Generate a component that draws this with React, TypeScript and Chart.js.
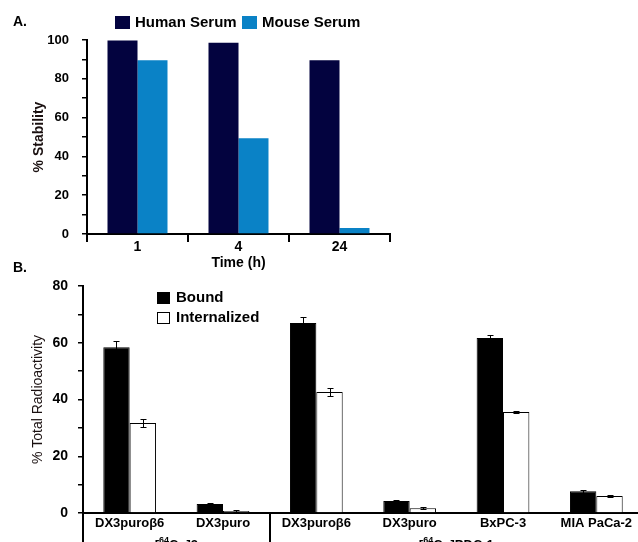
import React, { useEffect, useRef } from 'react';
import { Chart, registerables } from 'chart.js';

Chart.register(...registerables);

// ---------- Panel A data ----------
const timeLabels = ['1', '4', '24'];
const humanSerum = [99.7, 98.6, 89.6];
const mouseSerum = [89.5, 49.3, 3.1];
const seriesNamesA = ['Human Serum', 'Mouse Serum'];

// ---------- Panel B data ----------
const cellLines = ['DX3puroβ6', 'DX3puro', 'DX3puroβ6', 'DX3puro', 'BxPC-3', 'MIA PaCa-2'];
const bound = [58.4, 3.2, 67.0, 4.2, 61.7, 7.7];
const boundErr = [2.3, 0.5, 2.0, 0.3, 1.0, 0.5];
const internalized = [31.7, 0.7, 42.6, 1.7, 35.6, 6.0];
const internalizedErr = [1.3, 0.2, 1.5, 0.3, 0.5, 0.5];
const seriesNamesB = ['Bound', 'Internalized'];
const groupNames = ['2', 'PDC-1'];
const groupFirst = [0, 2];
const groupLast = [1, 5];

const FAMILY = "'Liberation Sans', Arial, Helvetica, sans-serif";
const HUMAN = '#03033f';
const MOUSE = '#0a82c6';

const panelAPlugin = {
  id: 'panelA',
  afterDraw(chart: any) {
    const ctx = chart.ctx;
    ctx.save();
    ctx.fillStyle = '#000';
    ctx.font = `bold 14px ${FAMILY}`;
    ctx.textBaseline = 'middle';
    ctx.textAlign = 'left';
    ctx.fillText('A.', 13, 22);
    // legend
    const items = [
      { x: 115, color: HUMAN, text: seriesNamesA[0] },
      { x: 242, color: MOUSE, text: seriesNamesA[1] },
    ];
    ctx.font = `bold 15px ${FAMILY}`;
    items.forEach((it) => {
      ctx.fillStyle = it.color;
      ctx.fillRect(it.x, 16, 15, 13);
      ctx.fillStyle = '#000';
      ctx.fillText(it.text, it.x + 20, 23);
    });
    ctx.restore();
  },
};

const panelBPlugin = {
  id: 'panelB',
  afterDatasetsDraw(chart: any) {
    const ctx = chart.ctx;
    const yScale = chart.scales.y;
    const xScale = chart.scales.x;
    const area = chart.chartArea;
    ctx.save();
    // error bars
    const errs = [boundErr, internalizedErr];
    const vals = [bound, internalized];
    ctx.strokeStyle = '#000';
    ctx.lineWidth = 1;
    [0, 1].forEach((d) => {
      const meta = chart.getDatasetMeta(d);
      meta.data.forEach((el: any, i: number) => {
        const v = vals[d][i];
        const e = errs[d][i];
        const yt = Math.round(yScale.getPixelForValue(v + e)) + 0.5;
        const yb = Math.round(yScale.getPixelForValue(Math.max(0, v - e))) + 0.5;
        const x = Math.round(el.x) + 0.5;
        ctx.beginPath();
        ctx.moveTo(x, yt);
        ctx.lineTo(x, yb);
        ctx.moveTo(x - 3, yt);
        ctx.lineTo(x + 3, yt);
        ctx.moveTo(x - 3, yb);
        ctx.lineTo(x + 3, yb);
        ctx.stroke();
      });
    });
    // axis extension and group divider
    const half = (xScale.getPixelForValue(1) - xScale.getPixelForValue(0)) / 2;
    ctx.lineWidth = 2;
    ctx.beginPath();
    ctx.moveTo(area.left, area.bottom);
    ctx.lineTo(area.left, chart.height);
    const divX = Math.round(xScale.getPixelForValue(groupLast[0]) + half);
    ctx.moveTo(divX, area.bottom);
    ctx.lineTo(divX, chart.height);
    ctx.stroke();
    // group labels
    ctx.fillStyle = '#000';
    ctx.textBaseline = 'alphabetic';
    groupNames.forEach((name, g) => {
      const x0 = xScale.getPixelForValue(groupFirst[g]) - half;
      const x1 = xScale.getPixelForValue(groupLast[g]) + half;
      const cx = (x0 + x1) / 2;
      ctx.font = `bold 13px ${FAMILY}`;
      const wOpen = ctx.measureText('[').width;
      const wRest = ctx.measureText('Cu]' + name).width;
      ctx.font = `bold 9px ${FAMILY}`;
      const wSup = ctx.measureText('64').width;
      let x = cx - (wOpen + wSup + wRest) / 2;
      const base = 549;
      ctx.textAlign = 'left';
      ctx.font = `bold 13px ${FAMILY}`;
      ctx.fillText('[', x, base);
      x += wOpen;
      ctx.font = `bold 9px ${FAMILY}`;
      ctx.fillText('64', x, base - 6);
      x += wSup;
      ctx.font = `bold 13px ${FAMILY}`;
      ctx.fillText('Cu]' + name, x, base);
    });
    // panel label
    ctx.font = `bold 14px ${FAMILY}`;
    ctx.textBaseline = 'middle';
    ctx.fillText('B.', 13, 268);
    // legend
    ctx.fillStyle = '#000';
    ctx.fillRect(157, 292, 13, 12);
    ctx.fillStyle = '#fff';
    ctx.fillRect(157, 312, 13, 12);
    ctx.lineWidth = 1;
    ctx.strokeStyle = '#000';
    ctx.strokeRect(157.5, 312.5, 12, 11);
    ctx.fillStyle = '#000';
    ctx.font = `bold 15px ${FAMILY}`;
    ctx.fillText(seriesNamesB[0], 176, 298);
    ctx.fillText(seriesNamesB[1], 176, 318);
    ctx.restore();
  },
};

export default function App() {
  const refA = useRef<HTMLCanvasElement>(null);
  const refB = useRef<HTMLCanvasElement>(null);

  useEffect(() => {
    const chartA = new Chart(refA.current as HTMLCanvasElement, {
      type: 'bar',
      data: {
        labels: timeLabels,
        datasets: [
          {
            label: seriesNamesA[0],
            data: humanSerum,
            backgroundColor: HUMAN,
            borderWidth: 0,
            categoryPercentage: 0.594,
            barPercentage: 1,
          },
          {
            label: seriesNamesA[1],
            data: mouseSerum,
            backgroundColor: MOUSE,
            borderWidth: 0,
            categoryPercentage: 0.594,
            barPercentage: 1,
          },
        ],
      },
      options: {
        responsive: false,
        animation: false,
        events: [],
        layout: { padding: { left: 31, right: 248, top: 40, bottom: 8 } },
        plugins: { legend: { display: false }, tooltip: { enabled: false } },
        scales: {
          x: {
            offset: true,
            grid: {
              offset: true,
              drawOnChartArea: false,
              drawTicks: true,
              tickLength: 8,
              color: '#000',
              lineWidth: 2,
            },
            border: { display: true, color: '#000', width: 2 },
            ticks: {
              color: '#000',
              font: { family: FAMILY, size: 14, weight: 'bold' },
              padding: -3,
              maxRotation: 0,
            },
            title: {
              display: true,
              text: 'Time (h)',
              color: '#000',
              font: { family: FAMILY, size: 14, weight: 'bold' },
              padding: 0,
            },
            afterFit: (s: any) => {
              s.height = 38;
            },
          },
          y: {
            min: 0,
            max: 100,
            grid: {
              drawOnChartArea: false,
              drawTicks: true,
              tickLength: 5,
              color: '#000',
              lineWidth: 1.5,
            },
            border: { display: true, color: '#000', width: 2 },
            ticks: {
              stepSize: 10,
              autoSkip: false,
              color: '#000',
              font: { family: FAMILY, size: 13, weight: 'bold' },
              padding: 13,
              callback: (v: any) => (Number(v) % 20 === 0 ? String(v) : ''),
            },
            title: {
              display: true,
              text: '% Stability',
              color: '#1a1010',
              font: { family: FAMILY, size: 14, weight: 'bold' },
              padding: 0,
            },
            afterFit: (s: any) => {
              s.width = 56;
            },
          },
        },
      } as any,
      plugins: [panelAPlugin],
    });

    const chartB = new Chart(refB.current as HTMLCanvasElement, {
      type: 'bar',
      data: {
        labels: cellLines,
        datasets: [
          {
            label: seriesNamesB[0],
            data: bound,
            backgroundColor: '#000',
            borderColor: '#000',
            borderWidth: 1,
            categoryPercentage: 0.565,
            barPercentage: 1,
          },
          {
            label: seriesNamesB[1],
            data: internalized,
            backgroundColor: '#fff',
            borderColor: '#000',
            borderWidth: 1,
            categoryPercentage: 0.565,
            barPercentage: 1,
          },
        ],
      },
      options: {
        responsive: false,
        animation: false,
        events: [],
        layout: { padding: { left: 30, right: 17, top: 286, bottom: 27 } },
        plugins: { legend: { display: false }, tooltip: { enabled: false } },
        scales: {
          x: {
            offset: true,
            grid: { display: false, drawTicks: false },
            border: { display: true, color: '#000', width: 2 },
            ticks: {
              color: '#000',
              font: { family: FAMILY, size: 13, weight: 'bold' },
              padding: 3,
              autoSkip: false,
              maxRotation: 0,
            },
            afterFit: (s: any) => {
              s.height = 20;
            },
          },
          y: {
            min: 0,
            max: 80,
            grid: {
              drawOnChartArea: false,
              drawTicks: true,
              tickLength: 5,
              color: '#000',
              lineWidth: 1.5,
            },
            border: { display: true, color: '#000', width: 2 },
            ticks: {
              stepSize: 10,
              autoSkip: false,
              color: '#000',
              font: { family: FAMILY, size: 14, weight: 'bold' },
              padding: 10,
              callback: (v: any) => (Number(v) % 20 === 0 ? String(v) : ''),
            },
            title: {
              display: true,
              text: '% Total Radioactivity',
              color: '#1a1010',
              font: { family: FAMILY, size: 14 },
              padding: 0,
            },
            afterFit: (s: any) => {
              s.width = 53;
            },
          },
        },
      } as any,
      plugins: [panelBPlugin],
    });

    return () => {
      chartA.destroy();
      chartB.destroy();
    };
  }, []);

  return (
    <div
      style={{
        position: 'fixed',
        left: 0,
        top: 0,
        width: 638,
        height: 542,
        overflow: 'hidden',
        background: '#fff',
      }}
    >
      <canvas
        ref={refB}
        width={660}
        height={560}
        style={{ position: 'absolute', left: 0, top: 0, width: 660, height: 560 }}
      />
      <canvas
        ref={refA}
        width={638}
        height={280}
        style={{ position: 'absolute', left: 0, top: 0, width: 638, height: 280 }}
      />
    </div>
  );
}
